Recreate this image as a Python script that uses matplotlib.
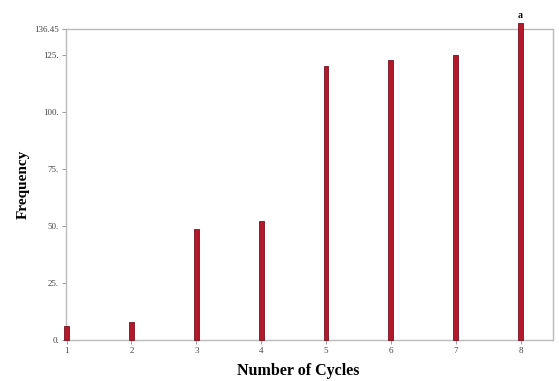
import matplotlib.pyplot as plt

cycles = [1, 2, 3, 4, 5, 6, 7, 8]
frequency = [6, 8, 48.5, 52, 120, 123, 125, 139]
ytick_vals = [0, 25, 50, 75, 100, 125, 136.45]
ytick_labels = ["0.", "25.", "50.", "75.", "100.", "125.", "136.45"]
xtick_labels = ["1", "2", "3", "4", "5", "6", "7", "8"]

plt.rcParams['font.family'] = ['Liberation Serif', 'DejaVu Serif']

fig = plt.figure(figsize=(5.59, 3.81), dpi=100)
ax = fig.add_axes([66 / 559, 1 - 340 / 381, (553 - 66) / 559, (340 - 29) / 381])

ax.bar(cycles, frequency, width=0.075, color='#b3192b', edgecolor='#7a1020',
       linewidth=0.6, clip_on=False, zorder=3)
ax.text(8, 140.5, "a", ha='center', va='bottom', fontsize=7, fontweight='bold')

ax.set_xlim(0.99, 8.5)
ax.set_ylim(0, 136.45)
ax.set_yticks(ytick_vals)
ax.set_yticklabels(ytick_labels)
ax.set_xticks(cycles)
ax.set_xticklabels(xtick_labels)
ax.tick_params(axis='both', labelsize=6.5, colors='#888888', labelcolor='#444444',
               length=3, width=0.6, direction='out', pad=2)
for sp in ax.spines.values():
    sp.set_color('#bbbbbb')
    sp.set_linewidth(1.0)

ax.set_ylabel("Frequency", fontsize=11, fontweight='bold')
ax.yaxis.set_label_coords((30 - 66) / (553 - 66), 0.5)
ax.set_xlabel("Number of Cycles", fontsize=11.5, fontweight='bold')
ax.xaxis.set_label_coords((298 - 66) / (553 - 66), -0.075)

fig.savefig("out.png", dpi=100)
